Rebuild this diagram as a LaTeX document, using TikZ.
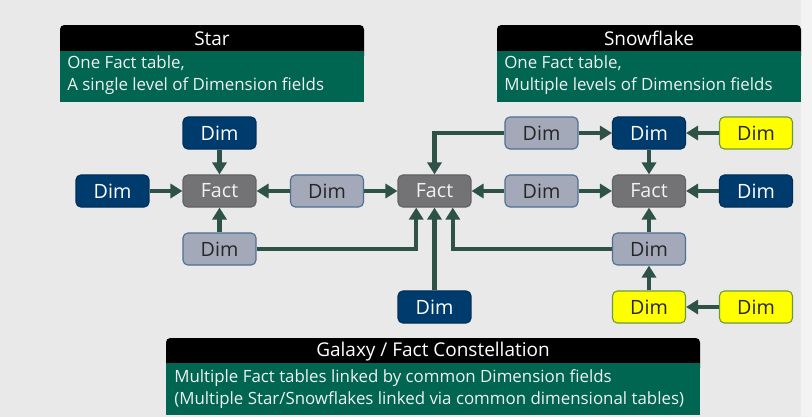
\documentclass[tikz,border=0pt]{standalone}
\usepackage{fontspec}
\setmainfont{Open Sans}
\usetikzlibrary{arrows.meta}
\definecolor{pagegray}{HTML}{E9E9E9}
\definecolor{edgegray}{HTML}{F3F3F3}
\definecolor{bandgreen}{HTML}{006652}
\definecolor{dimdark}{HTML}{003B6E}
\definecolor{dimlight}{HTML}{A3A9B9}
\definecolor{dimlightline}{HTML}{4F6F94}
\definecolor{factgray}{HTML}{737376}
\definecolor{dimyellow}{HTML}{FFFF00}
\definecolor{yellowline}{HTML}{6E9A3C}
\definecolor{linkgreen}{HTML}{2E5247}
\tikzset{
	tbl/.style={rounded corners=3.5pt, minimum width=51.9pt, minimum height=22.8pt, inner sep=0pt, line width=0.8pt, font=\fontsize{14}{16}\selectfont},
	darkdim/.style={tbl, fill=dimdark, draw=dimdark!80!black, text=white},
	lightdim/.style={tbl, fill=dimlight, draw=dimlightline, text=black!85},
	yellowdim/.style={tbl, fill=dimyellow, draw=yellowline, text=black!85},
	fact/.style={tbl, fill=factgray, draw=factgray!85!black, text=white!95!black},
	link/.style={draw=linkgreen, line width=3.2pt, -{Triangle[length=8.5pt, width=10pt]}},
	headtext/.style={text=white, inner sep=0pt, font=\fontsize{13.5}{15}\selectfont},
	bodytext/.style={text=white!94!black, inner sep=0pt, anchor=west, align=left, font=\fontsize{12}{15.6}\selectfont}
}

\begin{document}
\begin{tikzpicture}[x=0.025cm, y=-0.025cm]
			%%%%% PAGE %%%%%
			\useasboundingbox (0, 0) rectangle (812, 417);
			\fill[pagegray] (0, 0) rectangle (812, 417);
			\fill[edgegray] (801, 0) rectangle (812, 417);
			
			%%%%% CAPTIONS %%%%%
			\fill[black, rounded corners=3pt] (60, 25) rectangle (364, 60);
			\fill[bandgreen] (60, 51) rectangle (364, 102);
			\node[headtext] (starHead) at (212, 38.5) {Star};
			\node[bodytext] (starText) at (67, 75.5) {One Fact table,\\A single level of Dimension fields};
			
			\fill[black, rounded corners=3pt] (497, 25) rectangle (801, 60);
			\fill[bandgreen] (497, 51) rectangle (801, 102);
			\node[headtext] (snowHead) at (649, 38.5) {Snowflake};
			\node[bodytext] (snowText) at (504, 75.5) {One Fact table,\\Multiple levels of Dimension fields};
			
			\fill[black, rounded corners=3pt] (166, 338) rectangle (700, 372);
			\fill[bandgreen] (166, 363) rectangle (700, 415);
			\node[headtext] (galaxyHead) at (433, 351.5) {Galaxy / Fact Constellation};
			\node[bodytext] (galaxyText) at (174, 389.5) {Multiple Fact tables linked by common Dimension fields\\(Multiple Star/Snowflakes linked via common dimensional tables)};
			
			%%%%% STAR %%%%%
			\node[darkdim] (sTop) at (219.5, 133) {Dim};
			\node[darkdim] (sLeft) at (112.5, 191) {Dim};
			\node[fact] (sFact) at (219.5, 191) {Fact};
			\node[lightdim] (sBot) at (219.5, 249) {Dim};
			\node[lightdim] (mid) at (327, 191) {Dim};
			
			%%%%% GALAXY %%%%%
			\node[fact] (cFact) at (434.5, 191) {Fact};
			\node[lightdim] (cTop) at (541.5, 133) {Dim};
			\node[lightdim] (cRight) at (541.5, 191) {Dim};
			\node[darkdim] (cBot) at (434.5, 307) {Dim};
			
			%%%%% SNOWFLAKE %%%%%
			\node[fact] (fFact) at (649, 191) {Fact};
			\node[darkdim] (fTop) at (649, 133) {Dim};
			\node[yellowdim] (fTopOut) at (756, 133) {Dim};
			\node[darkdim] (fRight) at (756, 191) {Dim};
			\node[lightdim] (fBot) at (649, 249) {Dim};
			\node[yellowdim] (fBotY) at (649, 307) {Dim};
			\node[yellowdim] (fBotOut) at (756, 307) {Dim};
			
			%%%%% LINKS %%%%%
			\draw[link] (sTop) -- (sFact);
			\draw[link] (sLeft) -- (sFact);
			\draw[link] (sBot) -- (sFact);
			\draw[link] (mid) -- (sFact);
			\draw[link] (mid) -- (cFact);
			\draw[link] (sBot.east) -| ([xshift=-13pt]cFact.south);
			
			\draw[link] (cTop.west) -| (cFact.north);
			\draw[link] (cBot) -- (cFact);
			\draw[link] (cRight) -- (cFact);
			\draw[link] (fBot.west) -| ([xshift=13pt]cFact.south);
			
			\draw[link] (cTop) -- (fTop);
			\draw[link] (cRight) -- (fFact);
			\draw[link] (fTopOut) -- (fTop);
			\draw[link] (fTop) -- (fFact);
			\draw[link] (fRight) -- (fFact);
			\draw[link] (fBot) -- (fFact);
			\draw[link] (fBotY) -- (fBot);
			\draw[link] (fBotOut) -- (fBotY);
\end{tikzpicture}
\end{document}
